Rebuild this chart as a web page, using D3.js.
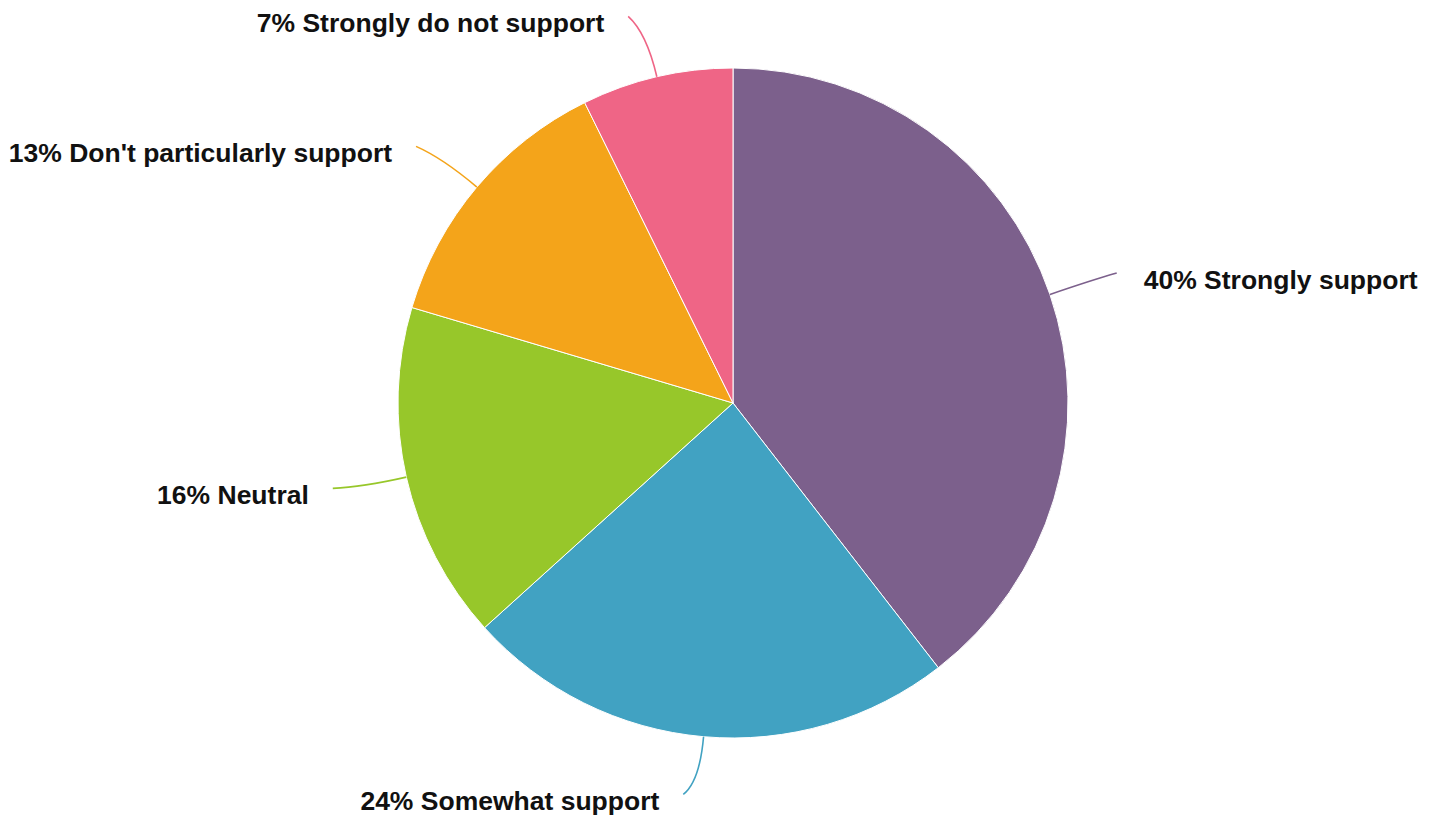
<!DOCTYPE html>
<html>
<head>
<meta charset="utf-8">
<script src="https://cdn.jsdelivr.net/npm/d3@7"></script>
<style>
  body { margin: 0; background: #fff; }
  text { font-family: 'Liberation Sans', Arial, sans-serif; font-weight: bold; }
</style>
</head>
<body>
<div class="container"></div>
<script>
const categories = ['Strongly support', 'Somewhat support', 'Neutral', "Don't particularly support", 'Strongly do not support'];
const values = [39.5, 23.8, 16.3, 13.1, 7.3];
const colors = ['#7c608c', '#41a2c2', '#97c72a', '#f4a41a', '#ef6586'];

const width = 1433;
const height = 818;
const cx = 733;
const cy = 403;
const radius = 335;

const svg = d3
  .select('.container')
  .append('svg')
  .attr('width', width)
  .attr('height', height);

const g = svg.append('g').attr('transform', `translate(${cx},${cy})`);

const pie = d3.pie().sort(null).value((d) => d.value);
const arcs = pie(categories.map((c, i) => ({ name: c, value: values[i], color: colors[i] })));
const total = d3.sum(values);

const arc = d3.arc().innerRadius(0).outerRadius(radius);

g.selectAll('path.slice')
  .data(arcs)
  .enter()
  .append('path')
  .attr('class', 'slice')
  .attr('d', arc)
  .attr('fill', (d) => d.data.color)
  .attr('stroke', '#fff')
  .attr('stroke-width', 1);

// point at radius r along the slice's middle angle
const polar = (d, r) => {
  const a = (d.startAngle + d.endAngle) / 2;
  return [r * Math.sin(a), -r * Math.cos(a)];
};
const isRight = (d) => (d.startAngle + d.endAngle) / 2 < Math.PI;

const lineEnd = (d) => {
  const p = polar(d, radius + 60);
  return [p[0] + (isRight(d) ? 10 : -15), p[1] - 2];
};

g.selectAll('path.leader')
  .data(arcs)
  .enter()
  .append('path')
  .attr('class', 'leader')
  .attr('fill', 'none')
  .attr('stroke', (d) => d.data.color)
  .attr('stroke-width', 1.6)
  .attr('d', (d) => {
    const p0 = polar(d, radius);
    const c = polar(d, radius + 45);
    const p1 = lineEnd(d);
    return `M${p0[0]},${p0[1]}Q${c[0]},${c[1]} ${p1[0]},${p1[1]}`;
  });

g.selectAll('text.label')
  .data(arcs)
  .enter()
  .append('text')
  .attr('class', 'label')
  .attr('x', (d) => lineEnd(d)[0] + (isRight(d) ? 27 : -24))
  .attr('y', (d) => lineEnd(d)[1] + 16)
  .attr('text-anchor', (d) => (isRight(d) ? 'start' : 'end'))
  .style('font-size', '26.5px')
  .attr('fill', '#111')
  .text((d) => `${Math.round((d.data.value / total) * 100)}% ${d.data.name}`);
</script>
</body>
</html>
